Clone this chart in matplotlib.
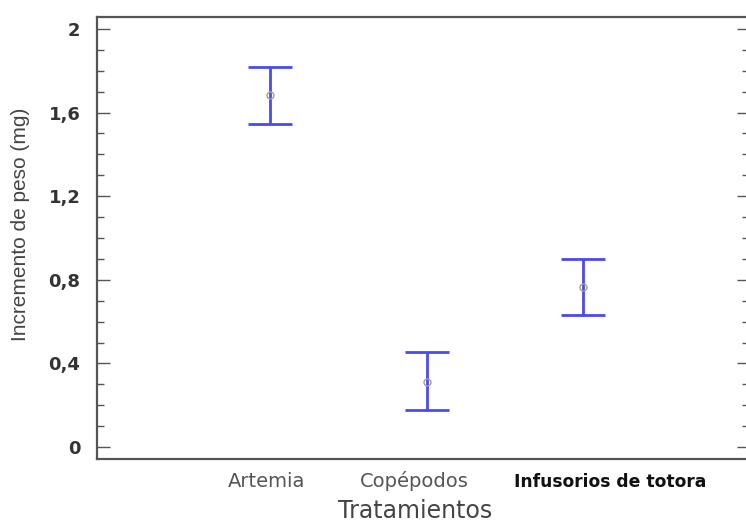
import matplotlib.pyplot as plt
import numpy as np
from matplotlib.ticker import MultipleLocator
from matplotlib.transforms import ScaledTranslation

plt.rcParams.update({'font.family': ['Liberation Sans', 'DejaVu Sans']})

tratamientos = ['Artemia', 'Copépodos', 'Infusorios de totora']
medias = [1.684, 0.311, 0.766]
superior = [1.818, 0.455, 0.900]
inferior = [1.545, 0.177, 0.632]

x = np.arange(1, len(tratamientos) + 1)
medias = np.array(medias)
err = [medias - np.array(inferior), np.array(superior) - medias]

fig = plt.figure(figsize=(7.46, 5.21), dpi=100)
ax = fig.add_axes([97/746, 1 - 459/521, 1.004 - 97/746, (459 - 17)/521])

ax.errorbar(x, medias, yerr=err, fmt='none', ecolor='#4a4af5', elinewidth=2,
            capsize=16, capthick=2)
ax.plot(x, medias, 'o', ms=5, mfc='none', mec='#a0a090', mew=1)

xmin, xmax = -0.109, 4.06
ax.set_xlim(xmin, xmax)
ax.set_ylim(-0.057, 2.057)

ax.set_yticks([0, 0.4, 0.8, 1.2, 1.6, 2.0], ['0', '0,4', '0,8', '1,2', '1,6', '2'])
ax.yaxis.set_minor_locator(MultipleLocator(0.1))
ax.tick_params(axis='y', which='both', direction='in', right=True, colors='#555555',
               labelcolor='#333333')
ax.tick_params(axis='y', which='major', length=9, width=1, labelsize=13, pad=12)
ax.tick_params(axis='y', which='minor', length=5, width=1)
for lab in ax.get_yticklabels():
    lab.set_fontweight('bold')
    lab.set_family('DejaVu Sans')

# category labels (drawn as text so each can sit where the original has it)
ax.set_xticks(x)
ax.tick_params(axis='x', length=0, labelbottom=False)
base = ax.get_xaxis_transform()
shifts = [-4, -13, 27]
for xi, name, dx, c, w, fs in zip(x, tratamientos, shifts,
                                  ['#555555', '#555555', '#111111'],
                                  ['normal', 'normal', 'bold'], [14, 14, 12.3]):
    tr = base + ScaledTranslation(dx / 100, -28 / 100, fig.dpi_scale_trans)
    ax.text(xi, 0, name, transform=tr, ha='center', va='baseline', color=c,
            fontweight=w, fontsize=fs, family='DejaVu Sans')

for s in ax.spines.values():
    s.set_color('#555555')
    s.set_linewidth(1.6)

ax.set_ylabel('Incremento de peso (mg)', fontsize=15, color='#444444')
ax.yaxis.set_label_coords(-0.103, 0.53)
fig.text(415 / 746, 3.5 / 521, 'Tratamientos', fontsize=17, color='#444444',
         family='DejaVu Sans', ha='center', va='baseline')

fig.savefig('out.png', dpi=100)
